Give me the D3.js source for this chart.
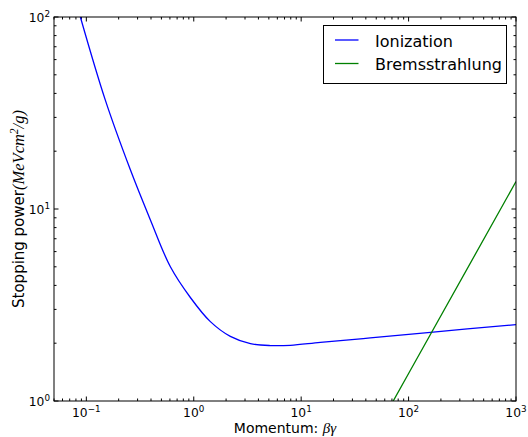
<!DOCTYPE html>
<html><head><meta charset="utf-8">
<script src="https://cdn.jsdelivr.net/npm/d3@7"></script>
<style>body{margin:0;background:#fff}svg{display:block}text{font-family:"DejaVu Sans",sans-serif}</style>
</head><body>
<svg id="c" width="528" height="437"></svg>
<script>
// Data
const ionMomentum = [0.088, 0.15, 0.257, 0.394, 0.606, 0.93, 1.428, 2.19, 3.37, 5.17, 7.93, 15.1, 44, 160, 1000];
const ionPower    = [100, 37.0, 16.0, 8.8, 5.0, 3.46, 2.59, 2.17, 1.99, 1.944, 1.95, 2.02, 2.13, 2.28, 2.50];
const bremMomentum = [10, 100, 1000];
const bremPower    = [0.139, 1.39, 13.9];
const seriesNames = ["Ionization", "Bremsstrahlung"];
const xMajor = [0.1, 1, 10, 100, 1000];
const xMajorExp = ["−1", "0", "1", "2", "3"];
const yMajor = [1, 10, 100];
const yMajorExp = ["0", "1", "2"];

const svg = d3.select("#c");
const L = 54, R = 516, T = 17, B = 401;
const x = d3.scaleLog().domain([0.05, 1000]).range([L, R]);
const y = d3.scaleLog().domain([1, 100]).range([B, T]);

svg.append("clipPath").attr("id","clip").append("rect")
  .attr("x", L).attr("y", T).attr("width", R-L).attr("height", B-T);

// minor ticks
const xMinor = [];
[0.01,0.1,1,10,100].forEach(d=>{for(let k=2;k<=9;k++){const v=d*k; if(v>=0.05&&v<=1000) xMinor.push(v);}});
const yMinor = [];
[1,10].forEach(d=>{for(let k=2;k<=9;k++) yMinor.push(d*k);});

const tk = svg.append("g").attr("stroke","#000").attr("stroke-width",1);
function vtick(v, len){ const px=x(v);
  tk.append("line").attr("x1",px).attr("x2",px).attr("y1",B).attr("y2",B-len);
  tk.append("line").attr("x1",px).attr("x2",px).attr("y1",T).attr("y2",T+len);}
function htick(v, len){ const py=y(v);
  tk.append("line").attr("y1",py).attr("y2",py).attr("x1",L).attr("x2",L+len);
  tk.append("line").attr("y1",py).attr("y2",py).attr("x1",R).attr("x2",R-len);}
xMinor.forEach(v=>vtick(v,2.5)); xMajor.forEach(v=>vtick(v,4.5));
yMinor.forEach(v=>htick(v,2.5)); yMajor.forEach(v=>htick(v,4.5));

// series
const line = d3.line().x(d=>x(d[0])).y(d=>y(d[1])).curve(d3.curveCatmullRom.alpha(0.5));
const plot = svg.append("g").attr("clip-path","url(#clip)");
plot.append("path").datum(ionMomentum.map((m,i)=>[m, ionPower[i]]))
  .attr("d", line).attr("fill","none").attr("stroke","#0000ff").attr("stroke-width",1.3);
plot.append("path").datum(bremMomentum.map((m,i)=>[m, bremPower[i]]))
  .attr("d", d3.line().x(d=>x(d[0])).y(d=>y(d[1]))).attr("fill","none").attr("stroke","#008000").attr("stroke-width",1.3);

// frame
svg.append("rect").attr("x",L).attr("y",T).attr("width",R-L).attr("height",B-T)
  .attr("fill","none").attr("stroke","#000").attr("stroke-width",1);

// tick labels
xMajor.forEach((v,i)=>{
  const t = svg.append("text").attr("x", x(v)).attr("y", 417).attr("text-anchor","middle")
    .attr("font-size", 12.3).attr("fill","#000");
  t.append("tspan").text("10");
  t.append("tspan").attr("dy",-5).attr("font-size",8.8).text(xMajorExp[i]);
});
yMajor.forEach((v,i)=>{
  const t = svg.append("text").attr("x", 50).attr("y", y(v)+5).attr("text-anchor","end")
    .attr("font-size", 12.3).attr("fill","#000");
  t.append("tspan").text("10");
  t.append("tspan").attr("dy",-5).attr("font-size",8.8).text(yMajorExp[i]);
});

// axis labels
const ser = "'Liberation Serif',serif";
const xl = svg.append("text").attr("x", (L+R)/2).attr("y", 433).attr("text-anchor","middle").attr("font-size",14);
xl.append("tspan").text("Momentum: ");
xl.append("tspan").attr("font-family",ser).attr("font-style","italic").attr("font-size",15).text("βγ");

const yl = svg.append("text").attr("transform",`translate(24,${(T+B)/2}) rotate(-90)`)
  .attr("text-anchor","middle").attr("font-size",15);
yl.append("tspan").text("Stopping power");
yl.append("tspan").attr("font-family",ser).attr("font-style","italic").attr("font-size",16.5).text("(MeVcm");
yl.append("tspan").attr("font-family",ser).attr("font-style","italic").attr("font-size",11.5).attr("dy",-6).text("2");
yl.append("tspan").attr("font-family",ser).attr("font-style","italic").attr("font-size",16.5).attr("dy",6).text("/g)");

// legend
const lg = svg.append("g");
lg.append("rect").attr("x",323.5).attr("y",25.5).attr("width",183).attr("height",58)
  .attr("fill","#fff").attr("stroke","#000").attr("stroke-width",1);
const colors = ["#0000ff","#008000"];
seriesNames.forEach((n,i)=>{
  const yy = 40 + i*23.5;
  lg.append("line").attr("x1",335).attr("x2",358.5).attr("y1",yy).attr("y2",yy).attr("stroke",colors[i]).attr("stroke-width",1.3);
  lg.append("text").attr("x",375).attr("y",yy+6.5).attr("font-size",16).text(n);
});
</script>
</body></html>
